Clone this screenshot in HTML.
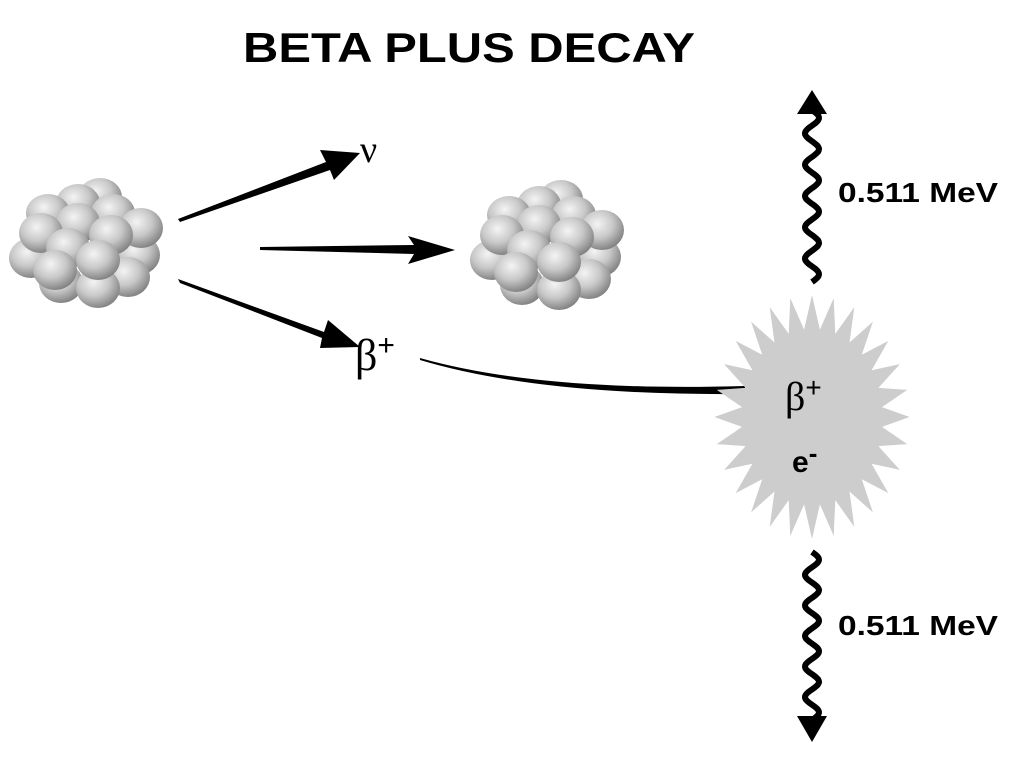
<!DOCTYPE html>
<html><head><meta charset="utf-8"><style>
html,body{margin:0;padding:0;background:#fff}
svg{display:block}
</style></head><body>
<svg id="s" width="1034" height="771" viewBox="0 0 1034 771" xmlns="http://www.w3.org/2000/svg">
<defs>
<radialGradient id="g" cx="0.4" cy="0.35" r="0.7">
<stop offset="0" stop-color="#f4f4f4"/><stop offset="0.5" stop-color="#c8c8c8"/><stop offset="1" stop-color="#7a7a7a"/>
</radialGradient>
<g id="nuc">
<ellipse cx="102" cy="197" rx="22" ry="19" fill="url(#g)"/>
<ellipse cx="80" cy="203" rx="22" ry="19" fill="url(#g)"/>
<ellipse cx="50" cy="213" rx="22" ry="19" fill="url(#g)"/>
<ellipse cx="115" cy="213" rx="22" ry="19" fill="url(#g)"/>
<ellipse cx="140" cy="255" rx="22" ry="20" fill="url(#g)"/>
<ellipse cx="130" cy="277" rx="22" ry="20" fill="url(#g)"/>
<ellipse cx="33" cy="258" rx="22" ry="20" fill="url(#g)"/>
<ellipse cx="143" cy="228" rx="22" ry="20" fill="url(#g)"/>
<ellipse cx="80" cy="223" rx="22" ry="20" fill="url(#g)"/>
<ellipse cx="43" cy="233" rx="22" ry="20" fill="url(#g)"/>
<ellipse cx="113" cy="235" rx="22" ry="20" fill="url(#g)"/>
<ellipse cx="63" cy="283" rx="22" ry="20" fill="url(#g)"/>
<ellipse cx="70" cy="248" rx="22" ry="20" fill="url(#g)"/>
<ellipse cx="57" cy="270" rx="22" ry="20" fill="url(#g)"/>
<ellipse cx="100" cy="288" rx="22" ry="20" fill="url(#g)"/>
<ellipse cx="100" cy="260" rx="22" ry="20" fill="url(#g)"/>
</g>
</defs>
<text x="469" y="62" text-anchor="middle" font-family="Liberation Sans, sans-serif" font-weight="bold" font-size="42" textLength="452" lengthAdjust="spacingAndGlyphs">BETA PLUS DECAY</text>
<use href="#nuc" x="-2" y="0"/>
<use href="#nuc" x="459" y="2"/>
<polygon points="178,219 326,162 320,150 360,153 334,180 330,170 180,222" fill="#000"/>
<polygon points="260,247 414,245 408,236 455,250 408,264 414,254 260,250" fill="#000"/>
<polygon points="178,279 324,332 328,320 360,347 320,348 322,338 180,283" fill="#000"/>
<path d="M420,358 Q540,392 745,386 L745,394 Q540,396 420,360 Z" fill="#000"/>
<text x="360" y="162" font-family="Liberation Serif, serif" font-size="38">ν</text>
<text x="355" y="370" font-family="Liberation Serif, serif" font-size="44">β<tspan font-family="Liberation Sans, sans-serif" font-size="30" dy="-15">+</tspan></text>
<polygon id="star" fill="#cdcdcd"/>
<text x="785" y="410" font-family="Liberation Serif, serif" font-size="40">β<tspan font-family="Liberation Sans, sans-serif" font-size="28" dy="-13">+</tspan></text>
<text x="792" y="472" font-family="Liberation Sans, sans-serif" font-weight="bold" font-size="30">e<tspan font-size="26" dy="-10">-</tspan></text>
<path id="w1" fill="none" stroke="#000" stroke-width="6"/>
<path id="w2" fill="none" stroke="#000" stroke-width="6"/>
<polygon points="812,90 827,114 797,114" fill="#000"/>
<polygon points="812,742 827,716 797,716" fill="#000"/>
<text x="838" y="202" font-family="Liberation Sans, sans-serif" font-weight="bold" font-size="28" textLength="160" lengthAdjust="spacingAndGlyphs">0.511 MeV</text>
<text x="838" y="635" font-family="Liberation Sans, sans-serif" font-weight="bold" font-size="28" textLength="160" lengthAdjust="spacingAndGlyphs">0.511 MeV</text>
</svg>
<script>
var p=[],n=28,cx=812,cy=417;
for(var i=0;i<2*n;i++){var a=-Math.PI/2+i*Math.PI/n,r=i%2?88:122;p.push((cx+r*Math.cos(a)*0.8).toFixed(1)+","+(cy+r*Math.sin(a)).toFixed(1));}
document.getElementById('star').setAttribute('points',p.join(' '));
function wave(y0,y1){var d="M812,"+y0,steps=120;for(var i=1;i<=steps;i++){var y=y0+(y1-y0)*i/steps;var x=812+7*Math.sin((y-y0)/(y1-y0)*Math.PI*2*5.5);d+=" L"+x.toFixed(1)+","+y.toFixed(1);}return d;}
document.getElementById('w1').setAttribute('d',wave(282,110));
document.getElementById('w2').setAttribute('d',wave(552,720));
</script>
</body></html>
